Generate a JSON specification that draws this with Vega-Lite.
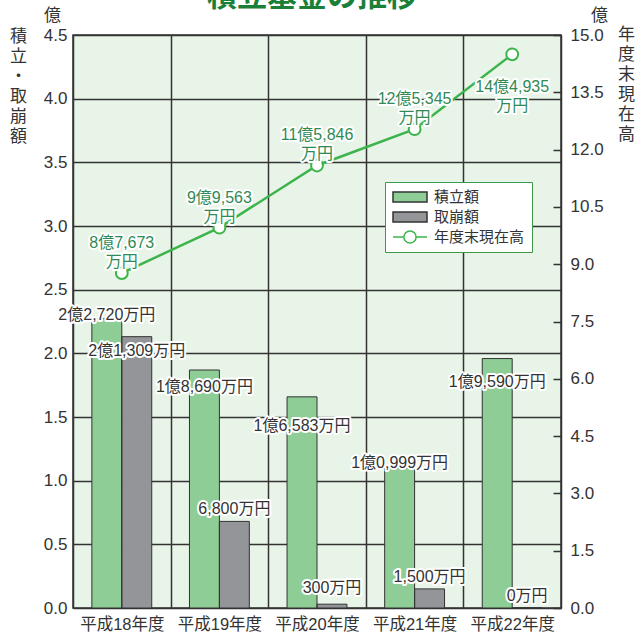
{
  "$schema": "https://vega.github.io/schema/vega-lite/v6.json",
  "width": 488,
  "height": 573,
  "autosize": {"type": "none"},
  "padding": {"left": 73, "top": 35, "right": 77, "bottom": 27},
  "background": "white",
  "title": {"text": "積立基金の推移", "fontSize": 30, "fontWeight": "bold", "color": "#1a8038", "anchor": "middle", "frame": "group", "offset": -6, "dx": -5, "font": "Noto Sans CJK JP"},
  "config": {
    "font": "Liberation Sans, Noto Sans CJK JP",
    "view": {"fill": "#e8f4e8", "stroke": "#333333", "strokeWidth": 1.5},
    "axis": {"labelFont": "Liberation Sans, Noto Sans CJK JP", "titleFont": "Liberation Sans, Noto Sans CJK JP", "labelColor": "#333333", "titleColor": "#333333", "titleFontWeight": "normal"}
  },
  "datasets": {
    "bars": [
      {"year": "平成18年度", "type": "積立額", "value": 2.272, "label": "2億2,720万円"},
      {"year": "平成18年度", "type": "取崩額", "value": 2.1309, "label": "2億1,309万円"},
      {"year": "平成19年度", "type": "積立額", "value": 1.869, "label": "1億8,690万円"},
      {"year": "平成19年度", "type": "取崩額", "value": 0.68, "label": "6,800万円"},
      {"year": "平成20年度", "type": "積立額", "value": 1.6583, "label": "1億6,583万円"},
      {"year": "平成20年度", "type": "取崩額", "value": 0.03, "label": "300万円"},
      {"year": "平成21年度", "type": "積立額", "value": 1.0999, "label": "1億0,999万円"},
      {"year": "平成21年度", "type": "取崩額", "value": 0.15, "label": "1,500万円"},
      {"year": "平成22年度", "type": "積立額", "value": 1.959, "label": "1億9,590万円"},
      {"year": "平成22年度", "type": "取崩額", "value": 0, "label": "0万円"}
    ],
    "balance": [
      {"year": "平成18年度", "balance": 8.7673, "label": "8億7,673\n万円"},
      {"year": "平成19年度", "balance": 9.9563, "label": "9億9,563\n万円"},
      {"year": "平成20年度", "balance": 11.5846, "label": "11億5,846\n万円"},
      {"year": "平成21年度", "balance": 12.5345, "label": "12億5,345\n万円"},
      {"year": "平成22年度", "balance": 14.4935, "label": "14億4,935\n万円"}
    ]
  },
  "layer": [
    {
      "data": {"name": "bars"},
      "encoding": {
        "x": {"field": "year", "type": "nominal", "scale": {"paddingInner": 0, "paddingOuter": 0},
          "axis": {"title": null, "tickBand": "extent", "grid": true, "gridColor": "#333333", "gridWidth": 1.5, "ticks": false, "domain": false, "labelAngle": 0, "labelFontSize": 16.5, "labelPadding": 8}},
        "xOffset": {"field": "type", "type": "nominal", "sort": ["積立額", "取崩額"], "scale": {"paddingInner": 0, "paddingOuter": 0.63}},
        "y": {"field": "value", "type": "quantitative", "stack": null, "scale": {"domain": [0, 4.5], "nice": false},
          "axis": {"orient": "left", "title": "億", "titleAngle": 0, "titleAlign": "center", "titleBaseline": "middle", "titleX": -21, "titleY": -20, "titleFontSize": 17,
            "values": [0, 0.5, 1, 1.5, 2, 2.5, 3, 3.5, 4, 4.5], "format": ".1f", "grid": true, "gridColor": "#333333", "gridWidth": 1.5, "ticks": false, "domain": false, "labelFontSize": 17, "labelPadding": 6}}
      },
      "layer": [
        {
          "mark": {"type": "bar"},
          "encoding": {
            "color": {"field": "type", "type": "nominal",
              "scale": {"domain": ["積立額", "取崩額", "年度末現在高"], "range": ["#8fcd96", "#949599", "#ffffff"]},
              "legend": {"title": null, "orient": "none", "legendX": 312, "legendY": 147, "fillColor": "white", "strokeColor": "#3a9a4a",
                "padding": 7, "rowPadding": 4, "labelFontSize": 15, "labelColor": "#333333", "labelFont": "Noto Sans CJK JP",
                "symbolSize": 1156, "clipHeight": 16, "labelOffset": 6, "symbolStrokeWidth": 1.5,
                "symbolType": {"expr": "datum.value === '年度末現在高' ? 'M-1,0H-0.36M0.36,0H1M0.36,0A0.36,0.36 0 1 1 -0.36,0A0.36,0.36 0 1 1 0.36,0' : 'M-1,-0.3H1V0.3H-1Z'"},
                "symbolStrokeColor": {"expr": "datum.value === '年度末現在高' ? '#3cb44b' : '#333333'"}
              }
            }
          }
        },
        {
          "mark": {"type": "bar", "fill": "transparent", "stroke": "#333333", "strokeWidth": 1}
        },
        {
          "mark": {"type": "text", "fontSize": 16, "fill": "white", "stroke": "white", "strokeWidth": 4, "strokeJoin": "round", "baseline": "middle",
            "dy": {"expr": "datum.type === '積立額' ? (datum.year === '平成18年度' ? -4 : datum.year === '平成19年度' ? 17 : datum.year === '平成20年度' ? 29 : datum.year === '平成21年度' ? -5 : 23) : (datum.year === '平成18年度' ? 14 : datum.year === '平成20年度' ? -16 : -12)"}},
          "encoding": {"text": {"field": "label", "type": "nominal"}}
        },
        {
          "mark": {"type": "text", "fontSize": 16, "fill": "#333333", "baseline": "middle",
            "dy": {"expr": "datum.type === '積立額' ? (datum.year === '平成18年度' ? -4 : datum.year === '平成19年度' ? 17 : datum.year === '平成20年度' ? 29 : datum.year === '平成21年度' ? -5 : 23) : (datum.year === '平成18年度' ? 14 : datum.year === '平成20年度' ? -16 : -12)"}},
          "encoding": {"text": {"field": "label", "type": "nominal"}}
        }
      ]
    },
    {
      "data": {"name": "balance"},
      "encoding": {
        "x": {"field": "year", "type": "nominal"},
        "y": {"field": "balance", "type": "quantitative", "scale": {"domain": [0, 15], "nice": false},
          "axis": {"orient": "right", "offset": -8, "title": "億", "titleAngle": 0, "titleAlign": "center", "titleBaseline": "middle", "titleX": 46, "titleY": -20, "titleFontSize": 17,
            "values": [0, 1.5, 3, 4.5, 6, 7.5, 9, 10.5, 12, 13.5, 15], "format": ".1f", "grid": false, "domain": false, "ticks": true, "tickSize": 8, "tickColor": "#333333", "tickWidth": 1.5, "labelFontSize": 17, "labelPadding": 9}}
      },
      "layer": [
        {"mark": {"type": "line", "color": "#3cb44b", "strokeWidth": 2.5}},
        {"mark": {"type": "point", "filled": true, "fill": "white", "stroke": "#3cb44b", "strokeWidth": 2, "size": 140, "opacity": 1}},
        {
          "mark": {"type": "text", "lineBreak": "\n", "lineHeight": 19, "fontSize": 16, "fill": "white", "stroke": "white", "strokeWidth": 4, "strokeJoin": "round", "baseline": "middle",
            "dy": {"expr": "datum.year === '平成22年度' ? 33 : -30"}},
          "encoding": {"text": {"field": "label", "type": "nominal"}}
        },
        {
          "mark": {"type": "text", "lineBreak": "\n", "lineHeight": 19, "fontSize": 16, "fill": "#2f8a55", "baseline": "middle",
            "dy": {"expr": "datum.year === '平成22年度' ? 33 : -30"}},
          "encoding": {"text": {"field": "label", "type": "nominal"}}
        }
      ]
    },
    {
      "data": {"name": "bars"},
      "mark": {"type": "rule", "opacity": 0},
      "encoding": {
        "y": {"field": "value", "type": "quantitative", "scale": {"domain": [0, 4.5], "nice": false},
          "axis": {"orient": "left", "title": ["積", "立", "・", "取", "崩", "額"], "titleAngle": 0, "titleAlign": "center", "titleBaseline": "middle", "titleX": -55, "titleY": 1, "titleFontSize": 17, "titleLineHeight": 20,
            "labels": false, "ticks": false, "domain": false, "grid": false}}
      }
    },
    {
      "data": {"name": "balance"},
      "mark": {"type": "rule", "opacity": 0},
      "encoding": {
        "y": {"field": "balance", "type": "quantitative", "scale": {"domain": [0, 15], "nice": false},
          "axis": {"orient": "right", "title": ["年", "度", "末", "現", "在", "高"], "titleAngle": 0, "titleAlign": "center", "titleBaseline": "middle", "titleX": 65, "titleY": -1, "titleFontSize": 17, "titleLineHeight": 20,
            "labels": false, "ticks": false, "domain": false, "grid": false}}
      }
    }
  ],
  "resolve": {"scale": {"y": "independent"}}
}
